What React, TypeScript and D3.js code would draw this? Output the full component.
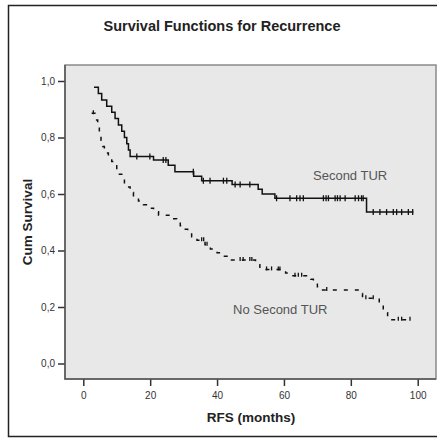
import React, { useEffect, useRef } from 'react';
import * as d3 from 'd3';

// Kaplan-Meier steps: [months, cumulative survival]
const secondTurSteps: [number, number][] = [
    [3.2, 0.978], [4.5, 0.956], [5.5, 0.933], [7.0, 0.911], [8.5, 0.889],
    [9.5, 0.867], [10.5, 0.844], [11.5, 0.822], [12.3, 0.8], [13.0, 0.778],
    [13.5, 0.756], [14.0, 0.733], [21.0, 0.72], [25.4, 0.702], [27.4, 0.679],
    [33.0, 0.663], [35.4, 0.647], [44.5, 0.634], [52.3, 0.617], [53.5, 0.6],
    [57.3, 0.585], [84.7, 0.536], [98.7, 0.536],
];
const secondTurCensored: number[] = [
    16.0, 19.9, 23.9, 24.7, 32.9, 35.9, 37.9, 41.9, 42.9, 45.4, 46.9, 49.8,
    57.8, 61.8, 63.8, 64.8, 65.8, 71.8, 72.6, 73.3, 75.3, 76.0, 76.8, 78.3,
    81.3, 82.3, 83.2, 83.7, 86.7, 88.7, 90.7, 92.7, 93.7, 95.2, 97.2, 98.5,
];

const noSecondTurSteps: [number, number][] = [
    [2.5, 0.886], [3.5, 0.862], [4.3, 0.838], [4.8, 0.815], [5.3, 0.79],
    [5.8, 0.768], [6.3, 0.745], [7.5, 0.73], [8.5, 0.715], [9.3, 0.7],
    [10.0, 0.685], [10.8, 0.67], [11.5, 0.655], [12.3, 0.64], [13.0, 0.625],
    [14.0, 0.605], [15.0, 0.588], [16.5, 0.575], [18.0, 0.562], [19.5, 0.55],
    [21.0, 0.537], [22.5, 0.525], [26.5, 0.512], [27.9, 0.5], [29.0, 0.488],
    [30.0, 0.475], [31.2, 0.462], [32.4, 0.449], [34.0, 0.436], [36.4, 0.42],
    [38.0, 0.405], [40.0, 0.392], [41.5, 0.38], [43.5, 0.366], [51.5, 0.35],
    [52.8, 0.333], [60.5, 0.32], [61.8, 0.311], [68.0, 0.298], [68.8, 0.286],
    [70.0, 0.272], [71.3, 0.26], [82.5, 0.248], [83.5, 0.231], [88.5, 0.207],
    [89.7, 0.18], [91.0, 0.155], [98.2, 0.155],
];
const noSecondTurCensored: number[] = [
    3.0, 35.4, 36.0, 37.0, 46.9, 47.8, 49.8, 50.4, 54.8, 56.3, 58.3, 58.8,
    63.3, 64.3, 65.3, 72.8, 84.5, 86.7, 94.2, 95.2, 97.7,
];

const xTicks = [0, 20, 40, 60, 80, 100];
const yTicks = [0, 0.2, 0.4, 0.6, 0.8, 1.0];

const W = 437;
const H = 438;
const plot = { left: 65, top: 65, right: 436, bottom: 379 };

// survival value just after time t on a step curve
const valueAt = (steps: [number, number][], t: number) => {
    let v = steps[0][1];
    steps.forEach(d => { if (d[0] <= t) v = d[1]; });
    return v;
};

const App = () => {
    const svgRef = useRef<SVGSVGElement>(null);

    useEffect(() => {
        const svg = d3.select(svgRef.current);
        svg.selectAll('*').remove();

        const x = d3.scaleLinear().domain([0, 100]).range([83.3, 417.7]);
        const y = d3.scaleLinear().domain([0, 1]).range([363.5, 81]);
        const font = 'Arial, "Liberation Sans", sans-serif';
        const comma = d3.formatLocale({ decimal: ',', thousands: '.', grouping: [3], currency: ['', ''] }).format('.1f');

        // outer frame
        svg.append('rect')
            .attr('x', 8.5).attr('y', 5.5)
            .attr('width', W).attr('height', 431)
            .attr('fill', '#fff').attr('stroke', '#222').attr('stroke-width', 1.5);

        // plot area
        svg.append('rect')
            .attr('x', plot.left).attr('y', plot.top)
            .attr('width', plot.right - plot.left).attr('height', plot.bottom - plot.top)
            .attr('fill', '#e8e8e8').attr('stroke', '#8a8a8a').attr('stroke-width', 1.5);

        // axes
        const yAxis = svg.append('g')
            .attr('transform', `translate(${plot.left},0)`)
            .call(d3.axisLeft(y).tickValues(yTicks).tickFormat(d => comma(+d)).tickSize(7).tickPadding(3));
        const xAxis = svg.append('g')
            .attr('transform', `translate(0,${plot.bottom})`)
            .call(d3.axisBottom(x).tickValues(xTicks).tickSize(7).tickPadding(6));
        [yAxis, xAxis].forEach(a => {
            a.select('.domain').remove();
            a.selectAll('line').attr('stroke', '#333').attr('stroke-width', 1.5);
            a.selectAll('text').style('font-family', font).style('font-size', '10px').attr('fill', '#333');
        });
        // darker left and bottom axis lines
        svg.append('path')
            .attr('d', `M${plot.left},${plot.top}V${plot.bottom}H${plot.right}`)
            .attr('fill', 'none').attr('stroke', '#555').attr('stroke-width', 1.5);

        const line = d3.line<[number, number]>()
            .x(d => x(d[0])).y(d => y(d[1]))
            .curve(d3.curveStepAfter);

        // No Second TUR (dashed)
        svg.append('path')
            .attr('d', line(noSecondTurSteps))
            .attr('fill', 'none').attr('stroke', '#111').attr('stroke-width', 1.5)
            .attr('stroke-dasharray', '4,7');
        svg.append('g').selectAll('line')
            .data(noSecondTurCensored).enter().append('line')
            .attr('x1', d => x(d)).attr('x2', d => x(d))
            .attr('y1', d => y(valueAt(noSecondTurSteps, d)) - 3)
            .attr('y2', d => y(valueAt(noSecondTurSteps, d)) + 1)
            .attr('stroke', '#111').attr('stroke-width', 1.3);

        // Second TUR (solid)
        svg.append('path')
            .attr('d', line(secondTurSteps))
            .attr('fill', 'none').attr('stroke', '#111').attr('stroke-width', 1.5);
        svg.append('g').selectAll('line')
            .data(secondTurCensored).enter().append('line')
            .attr('x1', d => x(d)).attr('x2', d => x(d))
            .attr('y1', d => y(valueAt(secondTurSteps, d)) - 3)
            .attr('y2', d => y(valueAt(secondTurSteps, d)) + 3)
            .attr('stroke', '#111').attr('stroke-width', 1.3);

        // labels
        svg.append('text')
            .attr('x', 313).attr('y', 179.5)
            .style('font-family', font).style('font-size', '13px').attr('fill', '#555')
            .text('Second TUR');
        svg.append('text')
            .attr('x', 233).attr('y', 313.5)
            .style('font-family', font).style('font-size', '13px').attr('fill', '#555')
            .text('No Second TUR');

        // titles
        svg.append('text')
            .attr('x', 222).attr('y', 31)
            .attr('text-anchor', 'middle')
            .style('font-family', font).style('font-size', '14.5px').style('font-weight', 'bold').attr('fill', '#222')
            .text('Survival Functions for Recurrence');
        svg.append('text')
            .attr('x', 251).attr('y', 421.5)
            .attr('text-anchor', 'middle')
            .style('font-family', font).style('font-size', '13.5px').style('font-weight', 'bold').attr('fill', '#222')
            .text('RFS (months)');
        svg.append('text')
            .attr('transform', 'translate(32,222) rotate(-90)')
            .attr('text-anchor', 'middle')
            .style('font-family', font).style('font-size', '13.5px').style('font-weight', 'bold').attr('fill', '#222')
            .text('Cum Survival');
    }, []);

    return (
        <svg ref={svgRef} width={W} height={H} style={{ position: 'absolute', left: 0, top: 0 }} />
    );
};

export default App;
